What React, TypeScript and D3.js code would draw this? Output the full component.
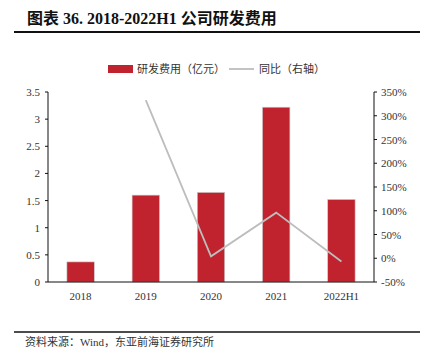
import React from "react";
import * as d3 from "d3";

const categories = ["2018", "2019", "2020", "2021", "2022H1"];
const rdExpense = [0.37, 1.6, 1.65, 3.22, 1.52];
const yoy: (number | null)[] = [null, 333, 4, 96, -7];
const leftTicks = [0, 0.5, 1, 1.5, 2, 2.5, 3, 3.5];
const rightTicks = [-50, 0, 50, 100, 150, 200, 250, 300, 350];

const W = 427;
const H = 363;
const plot = { left: 48, right: 374, top: 92, bottom: 282 };
const serif = "'Liberation Serif', 'Times New Roman', serif";
const cjk = "'Liberation Serif', 'Noto Sans CJK SC', serif";

export default function App() {
  const x = d3
    .scaleBand<string>()
    .domain(categories)
    .range([plot.left, plot.right])
    .paddingInner(0.58)
    .paddingOuter(0.29);
  const yL = d3.scaleLinear().domain([0, 3.5]).range([plot.bottom, plot.top]);
  const yR = d3.scaleLinear().domain([-50, 350]).range([plot.bottom, plot.top]);

  const pts = categories
    .map((c, i) => ({ c, v: yoy[i] }))
    .filter((d) => d.v !== null) as { c: string; v: number }[];
  const line = d3
    .line<{ c: string; v: number }>()
    .x((d) => (x(d.c) as number) + x.bandwidth() / 2)
    .y((d) => yR(d.v));

  return (
    <svg
      width={W}
      height={H}
      style={{ position: "absolute", left: 0, top: 0, background: "#fff" }}
    >
      <text
        x={27}
        y={24}
        fontFamily={cjk}
        fontWeight="bold"
        fontSize={16}
        fill="#111"
      >
        图表 36. 2018-2022H1 公司研发费用
      </text>
      <line x1={14} x2={420} y1={32} y2={32} stroke="#111" strokeWidth={2} />

      {/* legend */}
      <rect x={108} y={65} width={25} height={8} fill="#C0232E" />
      <text x={137} y={73} fontFamily={cjk} fontSize={11} fill="#333">
        研发费用（亿元）
      </text>
      <line x1={229} x2={254} y1={69} y2={69} stroke="#bdbdbd" strokeWidth={1.8} />
      <text x={259} y={73} fontFamily={cjk} fontSize={11} fill="#333">
        同比（右轴）
      </text>

      {/* bars */}
      {categories.map((c, i) => (
        <rect
          key={c}
          x={x(c)}
          y={yL(rdExpense[i])}
          width={x.bandwidth()}
          height={plot.bottom - yL(rdExpense[i])}
          fill="#C0232E"
          stroke="#c9c9c9"
          strokeWidth={0.6}
        />
      ))}

      {/* line */}
      <path d={line(pts) || ""} fill="none" stroke="#bdbdbd" strokeWidth={1.8} />

      {/* axes */}
      <line x1={plot.left} x2={plot.left} y1={plot.top} y2={plot.bottom} stroke="#111" />
      <line x1={plot.right} x2={plot.right} y1={plot.top} y2={plot.bottom} stroke="#111" />
      <line x1={plot.left} x2={plot.right} y1={plot.bottom} y2={plot.bottom} stroke="#111" />
      {leftTicks.map((t) => (
        <g key={"l" + t}>
          <line x1={plot.left - 3} x2={plot.left} y1={yL(t)} y2={yL(t)} stroke="#111" />
          <text
            x={plot.left - 8}
            y={yL(t) + 4}
            textAnchor="end"
            fontFamily={serif}
            fontSize={11}
            fill="#333"
          >
            {t}
          </text>
        </g>
      ))}
      {rightTicks.map((t) => (
        <g key={"r" + t}>
          <line x1={plot.right} x2={plot.right + 3} y1={yR(t)} y2={yR(t)} stroke="#111" />
          <text
            x={plot.right + 7}
            y={yR(t) + 4}
            textAnchor="start"
            fontFamily={serif}
            fontSize={11}
            fill="#333"
          >
            {t + "%"}
          </text>
        </g>
      ))}
      {categories.map((c) => (
        <text
          key={"x" + c}
          x={(x(c) as number) + x.bandwidth() / 2}
          y={300}
          textAnchor="middle"
          fontFamily={serif}
          fontSize={11}
          fill="#333"
        >
          {c}
        </text>
      ))}

      {/* footer */}
      <line x1={14} x2={420} y1={332} y2={332} stroke="#111" strokeWidth={1.5} />
      <text x={25} y={346} fontFamily={cjk} fontSize={11} fill="#333">
        资料来源：Wind，东亚前海证券研究所
      </text>
    </svg>
  );
}
